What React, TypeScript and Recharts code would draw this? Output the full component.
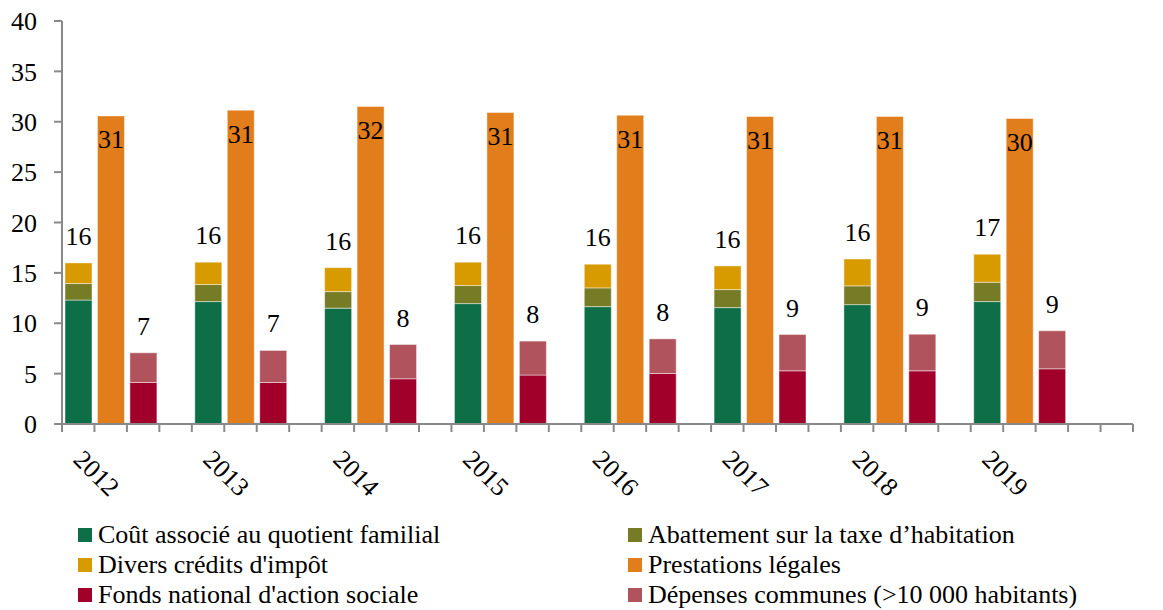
import React from 'react';
import { BarChart, Bar, XAxis, YAxis, LabelList } from 'recharts';

const years = ['2012', '2013', '2014', '2015', '2016', '2017', '2018', '2019'];
const quotientFamilial = [12.3, 12.15, 11.5, 11.95, 11.65, 11.55, 11.85, 12.15];
const abattementTH = [1.64, 1.69, 1.64, 1.79, 1.86, 1.79, 1.86, 1.92];
const creditsImpot = [2.05, 2.22, 2.38, 2.32, 2.35, 2.35, 2.67, 2.78];
const prestationsLegales = [30.58, 31.15, 31.52, 30.92, 30.65, 30.52, 30.52, 30.33];
const fondsNational = [4.12, 4.12, 4.49, 4.86, 5.02, 5.28, 5.28, 5.48];
const depensesCommunes = [2.95, 3.18, 3.4, 3.37, 3.43, 3.6, 3.64, 3.77];
const yTicks = [0, 5, 10, 15, 20, 25, 30, 35, 40];

const SLOTS_PER_YEAR = 4;
const TOTAL_SLOTS = years.length * SLOTS_PER_YEAR + 1;

const COLORS = {
  quotient: '#0D6E48',
  abattement: '#767B26',
  credits: '#D79B00',
  prestations: '#E17D1A',
  fonds: '#A1002B',
  depenses: '#B0535D',
};

const legendItems = [
  { label: 'Coût associé au quotient familial', color: COLORS.quotient },
  { label: 'Abattement sur la taxe d’habitation', color: COLORS.abattement },
  { label: "Divers crédits d'impôt", color: COLORS.credits },
  { label: 'Prestations légales', color: COLORS.prestations },
  { label: "Fonds national d'action sociale", color: COLORS.fonds },
  { label: 'Dépenses communes (>10 000 habitants)', color: COLORS.depenses },
];

const rows: any[] = [];
years.forEach((_, i) => {
  const base = i * SLOTS_PER_YEAR;
  rows.push({
    pos: base + 0.5,
    quotient: quotientFamilial[i],
    abattement: abattementTH[i],
    credits: creditsImpot[i],
    gTotal: Math.round(quotientFamilial[i] + abattementTH[i] + creditsImpot[i]),
  });
  rows.push({
    pos: base + 1.5,
    prestations: prestationsLegales[i],
    pLabel: Math.round(prestationsLegales[i]),
  });
  rows.push({
    pos: base + 2.5,
    fonds: fondsNational[i],
    depenses: depensesCommunes[i],
    rTotal: Math.round(fondsNational[i] + depensesCommunes[i]),
  });
});

const xTicks = Array.from({ length: TOTAL_SLOTS + 1 }, (_, i) => i);

const FONT = '"Liberation Serif", "Times New Roman", serif';
const FS = 26;

const YearTick = (props: any) => {
  const { x, y, payload } = props;
  const v = payload.value;
  if (v % SLOTS_PER_YEAR !== 0 || v / SLOTS_PER_YEAR >= years.length) return <g />;
  const lx = x + 10;
  const ly = y + 27;
  return (
    <text
      x={lx}
      y={ly}
      transform={`rotate(45 ${lx} ${ly})`}
      textAnchor="start"
      fontSize={FS}
      fontFamily={FONT}
      fill="#000"
    >
      {years[v / SLOTS_PER_YEAR]}
    </text>
  );
};

const labelStyle = { fontSize: FS, fontFamily: FONT, fill: '#000' };
const barStroke = 'rgba(255,255,255,0.45)';

export default function App() {
  return (
    <div style={{ position: 'absolute', left: 0, top: 0, width: 1163, height: 610, fontFamily: FONT, background: '#fff' }}>
      <BarChart width={1163} height={610} data={rows} margin={{ top: 21, right: 30, left: 12, bottom: 0 }}>
        <XAxis
          type="number"
          dataKey="pos"
          domain={[0, TOTAL_SLOTS]}
          ticks={xTicks}
          interval={0}
          height={186}
          tickSize={8}
          tick={<YearTick />}
          axisLine={{ stroke: '#898989', strokeWidth: 2 }}
          tickLine={{ stroke: '#898989', strokeWidth: 2 }}
          allowDataOverflow
        />
        <YAxis
          domain={[0, 40]}
          ticks={yTicks}
          interval={0}
          width={50}
          tickSize={8}
          tickMargin={17}
          tick={{ fontSize: FS, fontFamily: FONT, fill: '#000' }}
          axisLine={{ stroke: '#898989', strokeWidth: 2 }}
          tickLine={{ stroke: '#898989', strokeWidth: 2 }}
        />
        <Bar dataKey="quotient" stackId="s" fill={COLORS.quotient} stroke={barStroke} barSize={27} isAnimationActive={false} />
        <Bar dataKey="abattement" stackId="s" fill={COLORS.abattement} stroke={barStroke} barSize={27} isAnimationActive={false} />
        <Bar dataKey="credits" stackId="s" fill={COLORS.credits} stroke={barStroke} barSize={27} isAnimationActive={false}>
          <LabelList dataKey="gTotal" position="top" offset={18} style={labelStyle} />
        </Bar>
        <Bar dataKey="prestations" stackId="s" fill={COLORS.prestations} stroke={barStroke} barSize={27} isAnimationActive={false}>
          <LabelList dataKey="pLabel" position="insideTop" offset={14} style={labelStyle} />
        </Bar>
        <Bar dataKey="fonds" stackId="s" fill={COLORS.fonds} stroke={barStroke} barSize={27} isAnimationActive={false} />
        <Bar dataKey="depenses" stackId="s" fill={COLORS.depenses} stroke={barStroke} barSize={27} isAnimationActive={false}>
          <LabelList dataKey="rTotal" position="top" offset={18} style={labelStyle} />
        </Bar>
      </BarChart>
      {legendItems.map((item, i) => {
        const col = i % 2;
        const row = Math.floor(i / 2);
        return (
          <div
            key={item.label}
            style={{
              position: 'absolute',
              left: col === 0 ? 78 : 628,
              top: 535 + row * 30 - 15,
              height: 30,
              display: 'flex',
              alignItems: 'center',
              whiteSpace: 'nowrap',
              fontSize: FS,
              fontFamily: FONT,
              color: '#000',
            }}
          >
            <span style={{ display: 'inline-block', width: 14, height: 14, background: item.color, marginRight: 6 }} />
            <span>{item.label}</span>
          </div>
        );
      })}
    </div>
  );
}
